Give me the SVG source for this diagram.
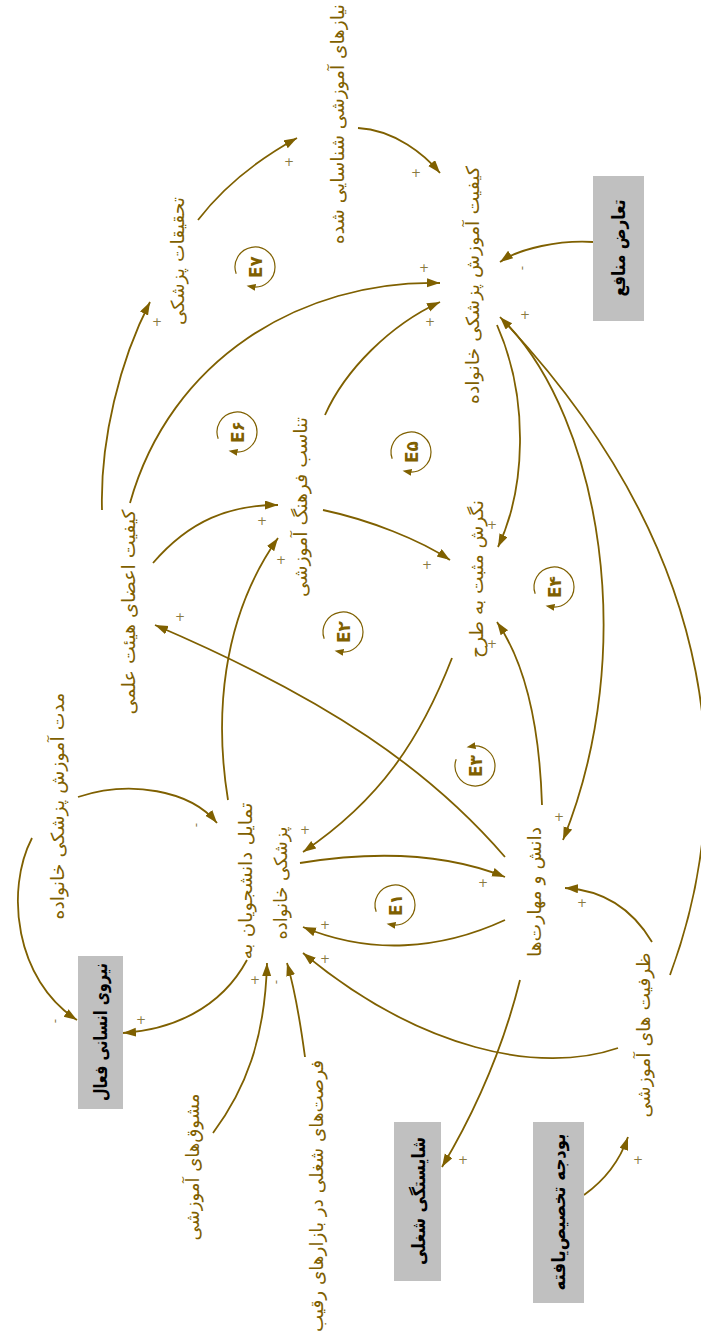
<svg xmlns="http://www.w3.org/2000/svg" width="701" height="1333" viewBox="0 0 701 1333">
<style>
.lbl{font-family:"DejaVu Sans",sans-serif;font-size:18px;fill:#7f6000;text-anchor:middle;dominant-baseline:central}
.blbl{font-family:"DejaVu Sans",sans-serif;font-size:18px;font-weight:bold;fill:#000;text-anchor:middle;dominant-baseline:central}
.box{fill:#c0c0c0}
.c{fill:none;stroke:#7f6000;stroke-width:1.8;marker-end:url(#ah)}
.sg{font-family:"DejaVu Sans",sans-serif;font-size:12px;fill:#8a7a40;text-anchor:middle;dominant-baseline:central}
.lp{fill:none;stroke:#7f6000;stroke-width:1.2;marker-end:url(#lah)}
.lt{font-family:"DejaVu Sans",sans-serif;font-size:17px;font-weight:bold;fill:#7f6000;text-anchor:middle;dominant-baseline:central}
</style>
<defs>
<marker id="ah" markerUnits="userSpaceOnUse" markerWidth="14" markerHeight="10" refX="13" refY="4.5" orient="auto" viewBox="0 0 14 10"><path d="M0,0 L13,4.5 L0,9 z" fill="#7f6000"/></marker>
<marker id="lah" markerUnits="userSpaceOnUse" markerWidth="10" markerHeight="8" refX="4" refY="3.5" orient="auto" viewBox="0 0 10 8"><path d="M0,0 L9,3.5 L0,7 z" fill="#7f6000"/></marker>
</defs>
<rect width="701" height="1333" fill="#fff"/>

<g id="connectors">
<path class="c" d="M198,220 Q235,172 297,138"/>
<path class="c" d="M102,510 C100,440 120,360 150,302"/>
<path class="c" d="M358,128 C395,130 425,155 440,173"/>
<path class="c" d="M593,242 C560,240 520,248 500,262"/>
<path class="c" d="M130,503 C170,360 300,280 440,283"/>
<path class="c" d="M325,415 C345,370 390,325 440,302"/>
<path class="c" d="M497,325 C530,400 525,490 498,547"/>
<path class="c" d="M505,322 C600,420 640,650 563,840"/>
<path class="c" d="M670,975 C735,800 730,560 500,317"/>
<path class="c" d="M153,563 C190,520 230,505 278,505"/>
<path class="c" d="M228,800 C215,720 220,620 278,538"/>
<path class="c" d="M323,510 C370,520 420,540 450,560"/>
<path class="c" d="M542,805 C540,740 530,670 497,622"/>
<path class="c" d="M452,658 C420,740 380,800 303,852"/>
<path class="c" d="M505,857 C430,770 330,700 155,625"/>
<path class="c" d="M300,863 C380,850 450,855 505,877"/>
<path class="c" d="M505,920 C440,950 370,955 303,927"/>
<path class="c" d="M652,942 C630,905 600,890 565,888"/>
<path class="c" d="M78,797 C130,780 190,790 217,823"/>
<path class="c" d="M32,838 C5,890 15,980 77,1020"/>
<path class="c" d="M247,960 C220,1010 170,1030 123,1033"/>
<path class="c" d="M213,1133 C245,1090 265,1040 267,963"/>
<path class="c" d="M305,1057 C300,1020 295,990 287,963"/>
<path class="c" d="M618,1048 C540,1075 420,1050 303,953"/>
<path class="c" d="M520,980 C500,1060 470,1120 442,1167"/>
<path class="c" d="M584,1195 C605,1180 620,1160 628,1137"/>
</g>

<g id="signs">
<text class="sg" x="289" y="162">+</text>
<text class="sg" x="157" y="322">+</text>
<text class="sg" x="416" y="173">+</text>
<text class="sg" x="522" y="268" transform="rotate(-90 522 268)">-</text>
<text class="sg" x="424" y="268">+</text>
<text class="sg" x="430" y="322">+</text>
<text class="sg" x="492" y="525">+</text>
<text class="sg" x="559" y="817">+</text>
<text class="sg" x="525" y="315">+</text>
<text class="sg" x="262" y="521">+</text>
<text class="sg" x="281" y="560">+</text>
<text class="sg" x="427" y="565">+</text>
<text class="sg" x="492" y="644">+</text>
<text class="sg" x="305" y="830">+</text>
<text class="sg" x="180" y="617">+</text>
<text class="sg" x="483" y="883">+</text>
<text class="sg" x="325" y="925">+</text>
<text class="sg" x="582" y="903">+</text>
<text class="sg" x="196" y="825" transform="rotate(-90 196 825)">-</text>
<text class="sg" x="55" y="1021" transform="rotate(-90 55 1021)">-</text>
<text class="sg" x="141" y="1020">+</text>
<text class="sg" x="255" y="980">+</text>
<text class="sg" x="276" y="982" transform="rotate(-90 276 982)">-</text>
<text class="sg" x="325" y="959">+</text>
<text class="sg" x="463" y="1160">+</text>
<text class="sg" x="638" y="1160">+</text>
</g>

<g id="loops">
<g id="loop-E7"><path class="lp" d="M236.2,273.8 A20,20 0 1 1 251.5,286.7"/><text class="lt" x="256" y="267" transform="rotate(-90 256 267)">E۷</text></g>
<g id="loop-E6"><path class="lp" d="M218.2,438.8 A20,20 0 1 1 233.5,451.7"/><text class="lt" x="238" y="432" transform="rotate(-90 238 432)">E۶</text></g>
<g id="loop-E5"><path class="lp" d="M392.2,458.8 A20,20 0 1 1 407.5,471.7"/><text class="lt" x="412" y="452" transform="rotate(-90 412 452)">E۵</text></g>
<g id="loop-E4"><path class="lp" d="M535.2,593.8 A20,20 0 1 1 550.5,606.7"/><text class="lt" x="555" y="587" transform="rotate(-90 555 587)">E۴</text></g>
<g id="loop-E2"><path class="lp" d="M324.2,638.8 A20,20 0 1 1 339.5,651.7"/><text class="lt" x="344" y="632" transform="rotate(-90 344 632)">E۲</text></g>
<g id="loop-E3"><path class="lp" d="M456.2,759.2 A20,20 0 1 0 471.5,746.3"/><text class="lt" x="476" y="766" transform="rotate(-90 476 766)">E۳</text></g>
<g id="loop-E1"><path class="lp" d="M376.2,911.8 A20,20 0 1 1 391.5,924.7"/><text class="lt" x="396" y="905" transform="rotate(-90 396 905)">E۱</text></g>
</g>

<g id="n-needs"><text class="lbl" x="337" y="124" transform="rotate(-90 337 124)" textLength="240" lengthAdjust="spacingAndGlyphs">نیازهای آموزشی شناسایی شده</text></g>
<g id="n-research"><text class="lbl" x="177" y="261" transform="rotate(-90 177 261)" textLength="128" lengthAdjust="spacingAndGlyphs">تحقیقات پزشکی</text></g>
<g id="n-quality"><text class="lbl" x="472" y="285" transform="rotate(-90 472 285)" textLength="238" lengthAdjust="spacingAndGlyphs">کیفیت آموزش پزشکی خانواده</text></g>
<g id="n-conflict"><rect class="box" x="593" y="176" width="51" height="145"/><text class="blbl" x="618" y="248" transform="rotate(-90 618 248)" textLength="97" lengthAdjust="spacingAndGlyphs">تعارض منافع</text></g>
<g id="n-faculty"><text class="lbl" x="128" y="612" transform="rotate(-90 128 612)" textLength="205" lengthAdjust="spacingAndGlyphs">کیفیت اعضای هیئت علمی</text></g>
<g id="n-culture"><text class="lbl" x="300" y="507" transform="rotate(-90 300 507)" textLength="180" lengthAdjust="spacingAndGlyphs">تناسب فرهنگ آموزشی</text></g>
<g id="n-attitude"><text class="lbl" x="476" y="579" transform="rotate(-90 476 579)" textLength="158" lengthAdjust="spacingAndGlyphs">نگرش مثبت به طرح</text></g>
<g id="n-interest"><text class="lbl" x="245" y="881" transform="rotate(-90 245 881)" textLength="157" lengthAdjust="spacingAndGlyphs">تمایل دانشجویان به</text><text class="lbl" x="280" y="883" transform="rotate(-90 280 883)" textLength="113" lengthAdjust="spacingAndGlyphs">پزشکی خانواده</text></g>
<g id="n-duration"><text class="lbl" x="57" y="806" transform="rotate(-90 57 806)" textLength="227" lengthAdjust="spacingAndGlyphs">مدت آموزش پزشکی خانواده</text></g>
<g id="n-workforce"><rect class="box" x="78" y="956" width="45" height="153"/><text class="blbl" x="100" y="1032" transform="rotate(-90 100 1032)" textLength="138" lengthAdjust="spacingAndGlyphs">نیروی انسانی فعال</text></g>
<g id="n-knowledge"><text class="lbl" x="534" y="892" transform="rotate(-90 534 892)" textLength="130" lengthAdjust="spacingAndGlyphs">دانش و مهارت‌ها</text></g>
<g id="n-capacity"><text class="lbl" x="643" y="1035" transform="rotate(-90 643 1035)" textLength="165" lengthAdjust="spacingAndGlyphs">ظرفیت های آموزشی</text></g>
<g id="n-incentives"><text class="lbl" x="192" y="1167" transform="rotate(-90 192 1167)" textLength="147" lengthAdjust="spacingAndGlyphs">مشوق‌های آموزشی</text></g>
<g id="n-jobs"><text class="lbl" x="316" y="1196" transform="rotate(-90 316 1196)" textLength="272" lengthAdjust="spacingAndGlyphs">فرصت‌های شغلی در بازارهای رقیب</text></g>
<g id="n-competence"><rect class="box" x="394" y="1122" width="47" height="159"/><text class="blbl" x="418" y="1201" transform="rotate(-90 418 1201)" textLength="128" lengthAdjust="spacingAndGlyphs">شایستگی شغلی</text></g>
<g id="n-budget"><rect class="box" x="533" y="1122" width="51" height="181"/><text class="blbl" x="558" y="1212" transform="rotate(-90 558 1212)" textLength="157" lengthAdjust="spacingAndGlyphs">بودجه تخصیص‌یافته</text></g>
</svg>
